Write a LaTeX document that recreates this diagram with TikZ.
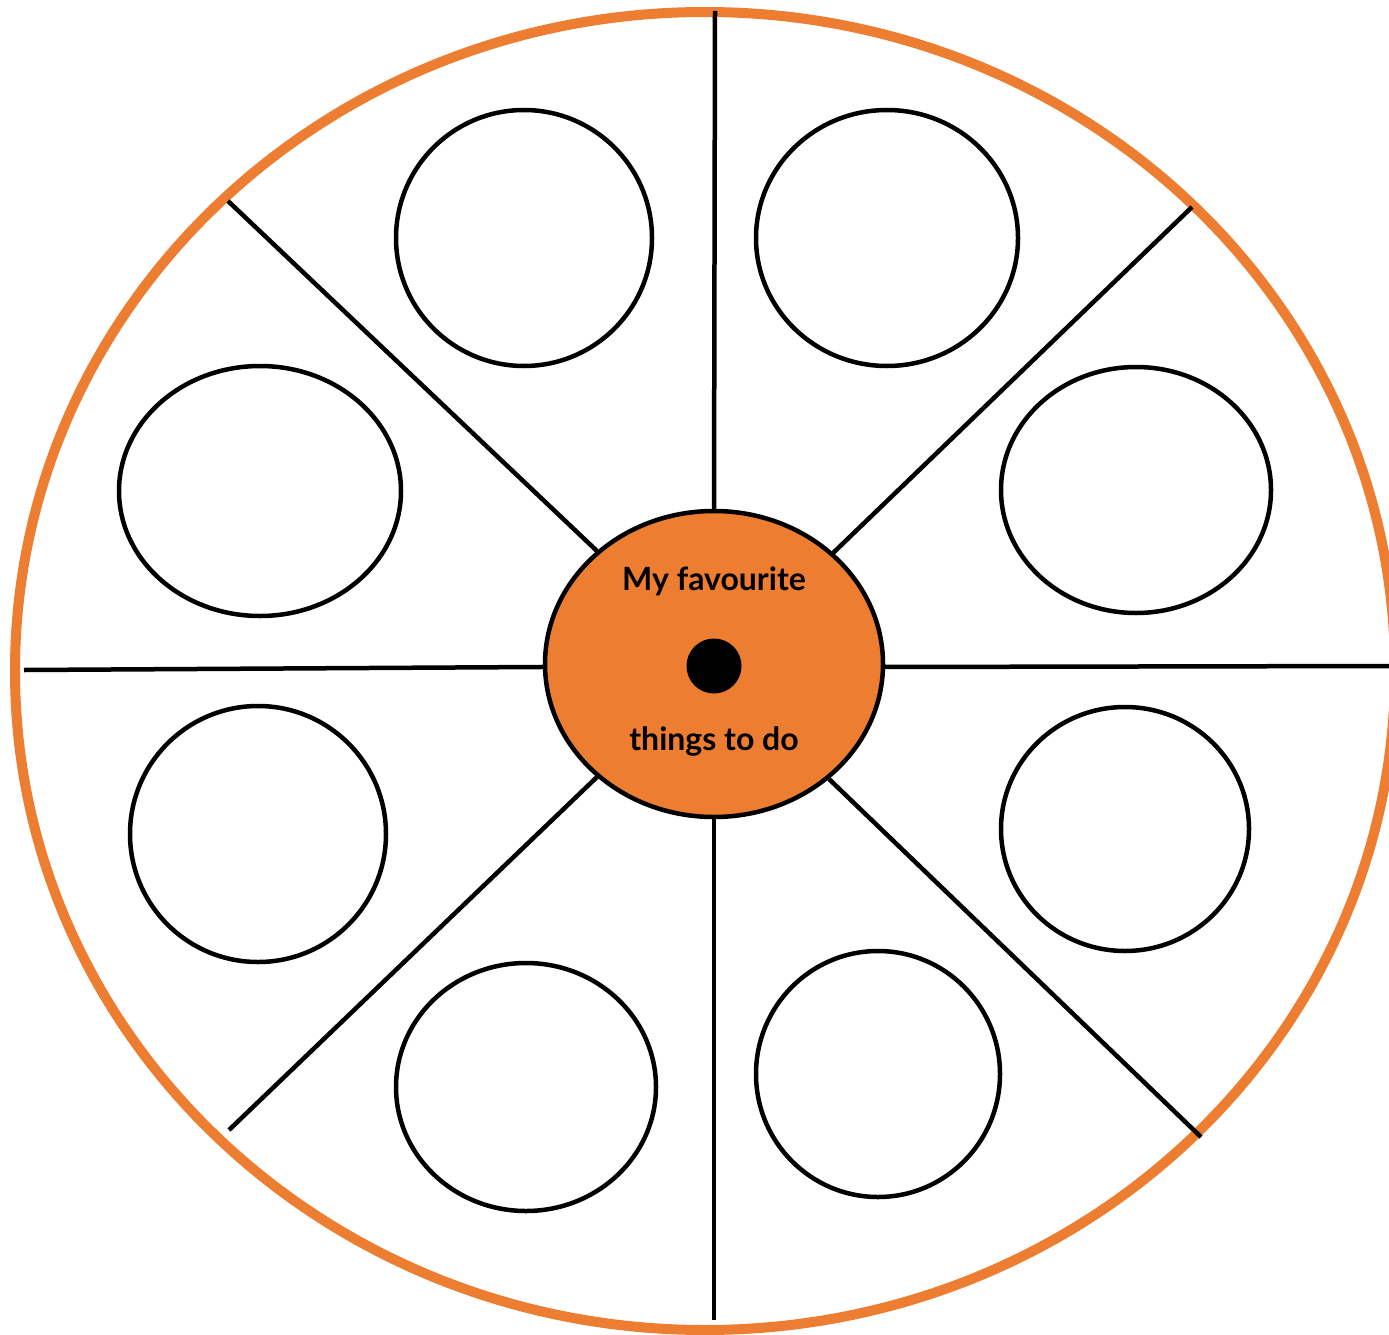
\documentclass[tikz,border=0pt]{standalone}
\usepackage{fontspec}
\setmainfont{Lato}
\usetikzlibrary{shapes.geometric}
\definecolor{wheelorange}{RGB}{237,125,49}
\tikzset{
  spoke/.style={draw=black, line width=4.5},
  slot/.style={draw=black, line width=4.5, ellipse, inner sep=0pt, fill=white},
  label/.style={font=\fontsize{32}{38}\selectfont\bfseries, text=black, anchor=base, inner sep=0pt}
}
\begin{document}
\begin{tikzpicture}[x=1pt,y=-1pt]
\useasboundingbox (0,0) rectangle (1389,1335);
\clip (0,0) rectangle (1389,1335);
\fill[white] (0,0) rectangle (1389,1335);
% outer ring
\draw[wheelorange, line width=10] (705,671) ellipse [x radius=690, y radius=659];
% outer spoke ends
\coordinate (eN) at (715,11);
\coordinate (eS) at (714,1320);
\coordinate (eW) at (24,670);
\coordinate (eE) at (1392,666);
\coordinate (eNW) at (228,201);
\coordinate (eNE) at (1192,207);
\coordinate (eSW) at (229,1130);
\coordinate (eSE) at (1201,1137);
% hub
\node[ellipse, draw=black, line width=4.5, fill=wheelorange, minimum width=338, minimum height=306, inner sep=0pt] (hub) at (714,664) {};
\draw[spoke] (hub.north) -- (eN);
\draw[spoke] (hub.south) -- (eS);
\draw[spoke] (hub.181.7) -- (eW);
\draw[spoke] (hub.359) -- (eE);
\draw[spoke] (hub.136.7) -- (eNW);
\draw[spoke] (hub.43.5) -- (eNE);
\draw[spoke] (hub.224.2) -- (eSW);
\draw[spoke] (hub.315) -- (eSE);
\node[circle, fill=black, minimum size=55, inner sep=0pt] (dot) at (714,666) {};
\node[label] (t1) at (714,590) {My favourite};
\node[label] (t2) at (714,750) {things to do};
% slots
\node[slot, minimum width=256, minimum height=256] (c1) at (524,238) {};
\node[slot, minimum width=262, minimum height=256] (c2) at (887,238) {};
\node[slot, minimum width=282, minimum height=250] (c3) at (260,491) {};
\node[slot, minimum width=270, minimum height=246] (c4) at (1136,490) {};
\node[slot, minimum width=256, minimum height=256] (c5) at (258,834) {};
\node[slot, minimum width=248, minimum height=244] (c6) at (1125,829) {};
\node[slot, minimum width=260, minimum height=248] (c7) at (526,1087) {};
\node[slot, minimum width=244, minimum height=246] (c8) at (878,1074) {};
\end{tikzpicture}
\end{document}
